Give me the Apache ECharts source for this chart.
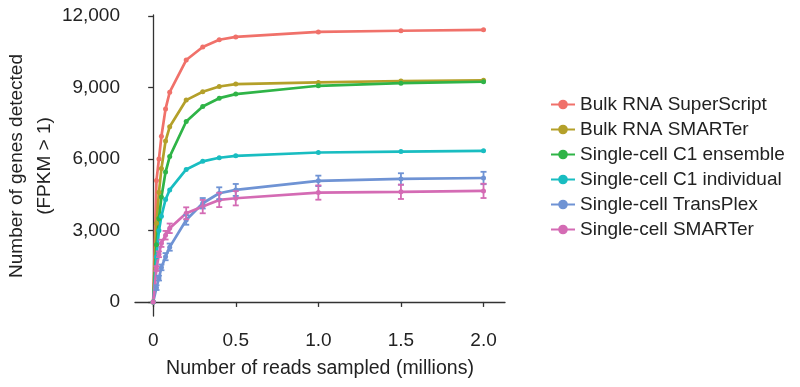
<!DOCTYPE html>
<html><head><meta charset="utf-8">
<script src="https://cdn.jsdelivr.net/npm/echarts@6/dist/echarts.min.js"></script>
<style>html,body{margin:0;padding:0;background:#fff}#c{width:800px;height:387px}</style>
</head><body><div id="c"></div>
<script>
var readsMillions = [0, 0.02, 0.035, 0.05, 0.075, 0.1, 0.2, 0.3, 0.4, 0.5, 1.0, 1.5, 2.0];
var seriesNames = ["Bulk RNA SuperScript","Bulk RNA SMARTer","Single-cell C1 ensemble","Single-cell C1 individual","Single-cell TransPlex","Single-cell SMARTer"];
var bulkSuperScript = [0, 5100, 6000, 6950, 8100, 8800, 10150, 10700, 11000, 11120, 11330, 11380, 11420];
var bulkSMARTer     = [0, 3300, 4600, 5600, 6750, 7350, 8470, 8820, 9040, 9140, 9210, 9270, 9300];
var c1Ensemble      = [0, 2400, 3500, 4400, 5450, 6100, 7570, 8200, 8550, 8720, 9070, 9180, 9240];
var c1Individual    = [0, 1900, 3000, 3600, 4300, 4700, 5560, 5900, 6050, 6130, 6270, 6310, 6340];
var transPlex       = [0, 600, 1000, 1450, 1900, 2300, 3440, 4140, 4560, 4700, 5080, 5160, 5200];
var transPlexErr    = [0, 100, 100, 120, 150, 150, 200, 220, 250, 250, 220, 240, 260];
var scSMARTer       = [0, 1400, 2000, 2460, 2800, 3090, 3720, 4000, 4280, 4350, 4590, 4620, 4660];
var scSMARTerErr    = [0, 100, 120, 150, 180, 200, 250, 280, 300, 300, 300, 300, 300];
var xTicks = [0, 0.5, 1.0, 1.5, 2.0];
var yTicks = [0, 3000, 6000, 9000, 12000];
var colors = ['#f0716a', '#b4a02a', '#2fb447', '#19bdc1', '#6f93d4', '#d46bb4'];

var values = [bulkSuperScript, bulkSMARTer, c1Ensemble, c1Individual, transPlex, scSMARTer];
function pairs(v){ return readsMillions.map(function(x,i){ return [x, v[i]]; }); }
function errTriples(v, e){ return readsMillions.map(function(x,i){ return [x, v[i], e[i]]; }); }

var series = [];
values.forEach(function(v, k){
  series.push({
    name: seriesNames[k], type: 'line', data: pairs(v),
    symbol: 'circle', symbolSize: 5, showSymbol: true,
    lineStyle: {width: 2.7, color: colors[k]},
    itemStyle: {color: colors[k]},
    emphasis: {disabled: true}, animation: false, z: 3
  });
});
function errSeries(v, e, color){
  return {
    name: 'err', type: 'custom', data: errTriples(v, e), animation: false, z: 4,
    renderItem: function(params, api){
      var x = api.value(0), y = api.value(1), er = api.value(2);
      if (er <= 0) return null;
      var lo = api.coord([x, y - er]), hi = api.coord([x, y + er]);
      var w = 3;
      var st = {stroke: color, lineWidth: 1.8};
      return {type: 'group', children: [
        {type: 'line', shape: {x1: lo[0], y1: lo[1], x2: hi[0], y2: hi[1]}, style: st},
        {type: 'line', shape: {x1: lo[0]-w, y1: lo[1], x2: lo[0]+w, y2: lo[1]}, style: st},
        {type: 'line', shape: {x1: hi[0]-w, y1: hi[1], x2: hi[0]+w, y2: hi[1]}, style: st}
      ]};
    }
  };
}
series.push(errSeries(transPlex, transPlexErr, colors[4]));
series.push(errSeries(scSMARTer, scSMARTerErr, colors[5]));

var txt = '#222';
var ff = 'Liberation Sans, Arial, sans-serif';
var chart = echarts.init(document.getElementById('c'), null, {renderer: 'canvas'});
chart.setOption({
  backgroundColor: '#fff',
  animation: false,
  grid: {left: 135, right: 295, top: 15, bottom: 71, containLabel: false},
  xAxis: {
    type: 'value', min: -0.11, max: 2.13,
    splitLine: {show: false},
    axisLine: {show: true, lineStyle: {color: '#333', width: 1.3}},
    axisTick: {show: true, length: 5, lineStyle: {color: '#333', width: 1.3}, customValues: xTicks},
    axisLabel: {customValues: xTicks, color: txt, fontSize: 19, fontFamily: ff, margin: 15,
      formatter: function(v){ return v === 0 ? '0' : v.toFixed(1); }},
    name: 'Number of reads sampled (millions)', nameLocation: 'middle', nameGap: 43,
    nameTextStyle: {color: txt, fontSize: 19.5, fontFamily: ff}
  },
  yAxis: {
    type: 'value', min: -590, max: 12040,
    splitLine: {show: false},
    axisLine: {show: true, lineStyle: {color: '#333', width: 1.3}},
    axisTick: {show: true, length: 5, lineStyle: {color: '#333', width: 1.3}, customValues: yTicks},
    axisLabel: {customValues: yTicks, color: txt, fontSize: 19, fontFamily: ff, margin: 15,
      formatter: function(v){ return v.toLocaleString('en-US'); }}
  },
  legend: {
    data: seriesNames, orient: 'vertical', left: 545, top: 90,
    itemWidth: 24, itemHeight: 12, itemGap: 6,
    textStyle: {color: txt, fontSize: 19, fontFamily: ff, lineHeight: 19},
    selectedMode: false
  },
  graphic: [{
    type: 'text', rotation: Math.PI/2, x: 31, y: 166,
    style: {text: 'Number of genes detected\n(FPKM > 1)', fill: txt, font: '19px "Liberation Sans", Arial, sans-serif',
      textAlign: 'center', textVerticalAlign: 'middle', lineHeight: 28}
  }],
  series: series
});
</script></body></html>
